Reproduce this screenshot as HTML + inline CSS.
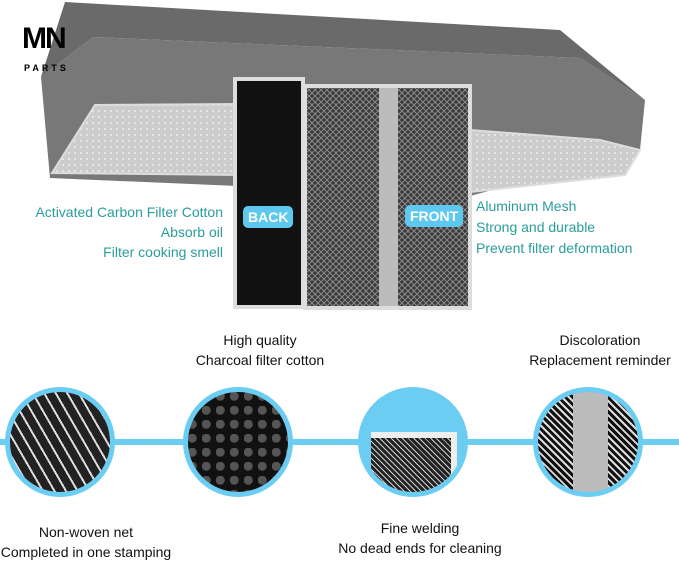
<!DOCTYPE html>
<html><head><style>
body{margin:0;width:679px;height:564px;background:#fff;position:relative;overflow:hidden;font-family:"Liberation Sans",sans-serif}
.t{position:absolute;white-space:nowrap;font-size:14px;line-height:20px}
.teal{color:#2a9d9a}
.blk{color:#111;text-align:center}
.c{position:absolute;width:100px;height:100px;border-radius:50%;border:5px solid #6bcdf2;overflow:hidden}
.tag{position:absolute;background:#5ec8ef;color:#fff;font-weight:bold;font-size:14px;border-radius:5px;padding:3px 5px}
</style></head><body>
<svg width="679" height="564" style="position:absolute;left:0;top:0">
<defs>
<pattern id="m" width="6" height="6" patternUnits="userSpaceOnUse"><rect width="6" height="6" fill="#3a3a3a"/><path d="M0 3L3 0L6 3L3 6Z" fill="none" stroke="#8a8a8a" stroke-width="1"/></pattern>
<pattern id="w" width="6" height="6" patternUnits="userSpaceOnUse"><rect width="6" height="6" fill="#ccc"/><circle cx="3" cy="3" r="1" fill="#eee"/></pattern>
</defs>
<polygon points="65,2 560,30 645,100 580,58 93,37 41,77" fill="#6a6a6a"/>
<polygon points="41,77 93,37 580,58 645,100 640,150 470,196 50,178" fill="#787878"/>
<polygon points="95,105 240,104 240,175 52,173" fill="url(#w)" stroke="#ddd" stroke-width="2"/>
<polygon points="470,130 600,140 640,150 625,175 470,192" fill="url(#w)" stroke="#ddd" stroke-width="2"/>
<rect x="235" y="79" width="68" height="228" fill="#111" stroke="#ddd" stroke-width="4"/>
<rect x="305" y="86" width="165" height="222" fill="url(#m)" stroke="#ddd" stroke-width="4"/>
<rect x="379" y="88" width="19" height="218" fill="#bbb"/>
<line x1="0" y1="442" x2="679" y2="442" stroke="#6bcdf2" stroke-width="6"/>
</svg>
<div class="t" style="left:22px;top:22px;font-size:30px;line-height:34px;font-weight:900;letter-spacing:-2px">MN</div>
<div class="t" style="left:24px;top:58px;font-size:9px;font-weight:bold;letter-spacing:3px">PARTS</div>
<div class="tag" style="left:243px;top:206px">BACK</div>
<div class="tag" style="left:405px;top:205px">FRONT</div>
<div class="t teal" style="right:456px;top:202px;text-align:right">Activated Carbon Filter Cotton<br>Absorb oil<br>Filter cooking smell</div>
<div class="t teal" style="left:476px;top:196px;line-height:21px">Aluminum Mesh<br>Strong and durable<br>Prevent filter deformation</div>
<div class="t blk" style="left:185px;top:330px;width:150px">High quality<br>Charcoal filter cotton</div>
<div class="t blk" style="left:515px;top:330px;width:170px">Discoloration<br>Replacement reminder</div>
<div class="t blk" style="left:0;top:522px;width:172px">Non-woven net<br>Completed in one stamping</div>
<div class="t blk" style="left:330px;top:518px;width:180px">Fine welding<br>No dead ends for cleaning</div>
<div class="c" style="left:5px;top:387px;background:repeating-linear-gradient(60deg,#222 0 8px,#ddd 8px 10px),#222"></div>
<div class="c" style="left:183px;top:387px;background:radial-gradient(circle at 30% 30%,#555 0 4px,#111 5px) 0 0/14px 14px"></div>
<div class="c" style="left:358px;top:387px;background:#6bcdf2"><div style="position:absolute;left:8px;top:40px;width:80px;height:70px;background:repeating-linear-gradient(45deg,#222 0 3px,#ccc 3px 4px);border-top:6px solid #eee;border-right:6px solid #eee"></div></div>
<div class="c" style="left:533px;top:387px;background:linear-gradient(90deg,transparent 0 35px,#bbb 35px 70px,transparent 70px),repeating-linear-gradient(45deg,#111 0 3px,#ddd 3px 5px)"></div>
</body></html>
